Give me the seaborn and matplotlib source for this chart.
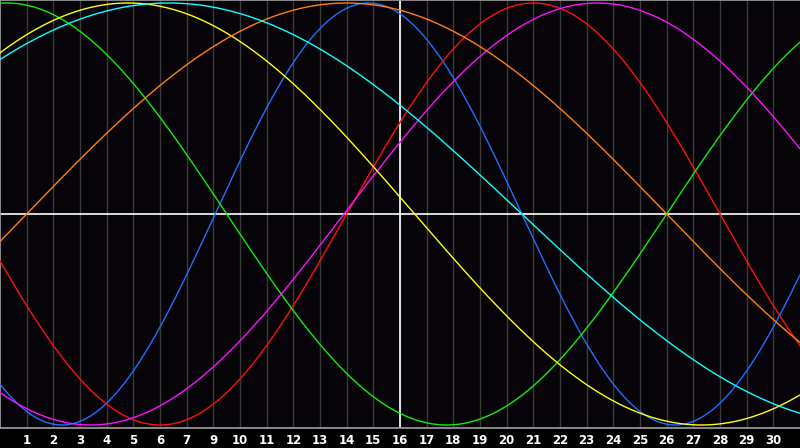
import numpy as np
import pandas as pd
import seaborn as sns
import matplotlib
matplotlib.use("Agg")
import matplotlib.pyplot as plt

# === Biorhythm cycles ===
# cycle length in days and the chart day where each curve crosses zero going up
cycle_names = ["physical", "emotional", "intellectual", "intuitive",
               "aesthetic", "awareness", "spiritual"]
cycle_days = [23, 28, 33, 38, 43, 48, 53]
zero_up_day = [8.07, 13.0, 25.0, 12.9, -5.95, 1.0, -6.93]
cycle_colors = ["#1f6fff", "#ff1010", "#10ee10", "#ff10ff",
                "#ffff10", "#ff8010", "#10ffff"]

# day grid lines and the date printed under each one
tick_pos = list(range(1, 30))
tick_labels = ["1", "2", "3", "4", "5", "6", "7", "9", "10", "11", "12", "13",
               "14", "15", "16", "17", "18", "19", "20", "21", "22", "23",
               "24", "25", "26", "27", "28", "29", "30"]

# === Build long-form table ===
days = np.linspace(0, 30, 601)
frames = []
for name, period, start in zip(cycle_names, cycle_days, zero_up_day):
    frames.append(pd.DataFrame({
        "day": days,
        "value": np.sin(2 * np.pi * (days - start) / period),
        "cycle": name,
    }))
df = pd.concat(frames, ignore_index=True)

# === Plot ===
sns.set_style("dark", {"axes.facecolor": "#060408", "figure.facecolor": "#000000"})
fig = plt.figure(figsize=(8, 4.48), dpi=100)
ax = fig.add_axes([0, 20 / 448, 1, 428 / 448])

for x in tick_pos:
    ax.axvline(x, color="#3a3a3a", lw=1.0, zorder=1)

sns.lineplot(data=df, x="day", y="value", hue="cycle", hue_order=cycle_names,
             palette=dict(zip(cycle_names, cycle_colors)), linewidth=1.0,
             legend=False, ax=ax, zorder=3)

ax.axhline(0, color="white", lw=1.2, zorder=2)
ax.axvline(15, color="white", lw=1.2, zorder=2)

amp = 214 / 211
ax.set_xlim(0, 30)
ax.set_ylim(-amp, amp)
ax.set_xticks(tick_pos)
ax.set_xticklabels(tick_labels, color="white", fontsize=8.5, fontweight="bold")
ax.set_yticks([])
ax.tick_params(axis="x", length=0, pad=4)
ax.set_xlabel("")
ax.set_ylabel("")
ax.grid(False)

for side in ["left", "top", "bottom"]:
    ax.spines[side].set_visible(True)
    ax.spines[side].set_color("#a0a0a0")
    ax.spines[side].set_linewidth(1.2)
ax.spines["right"].set_visible(False)

fig.savefig("out.png", dpi=100, facecolor=fig.get_facecolor())
